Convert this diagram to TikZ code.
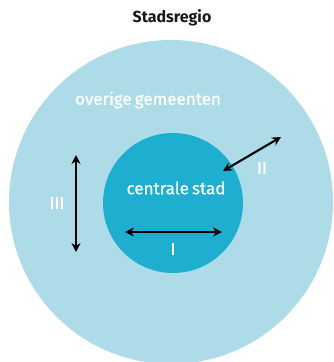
\documentclass[tikz,border=0pt]{standalone}
\usepackage{fontspec}
\setmainfont{Fira Sans}
\newfontfamily\halfvet[FakeBold=0.6,WordSpace=0.7]{Fira Sans}
\usepackage{xcolor}
\usepackage{tikz}
\usetikzlibrary{arrows.meta}
\definecolor{cRegio}{RGB}{173,220,232}
\definecolor{cStad}{RGB}{30,175,208}
\definecolor{cTitel}{RGB}{25,25,25}

\begin{document}
\begin{tikzpicture}[x=1pt,y=-1pt,font=\halfvet\fontsize{17}{19}\selectfont,
  witlabel/.style={text=white,inner sep=0pt},
  pijl/.style={{Stealth[length=9pt,width=9pt]}-{Stealth[length=9pt,width=9pt]},line width=2.1pt,black}]
  \useasboundingbox (0,0) rectangle (334,362);
  \clip (0,0) rectangle (334,362);
  \fill[white] (0,0) rectangle (334,362);
  % two rings: region around the central city
  \node[circle,fill=cRegio,minimum size=324pt,inner sep=0pt] (regio) at (171,202) {};
  \node[circle,fill=cStad,minimum size=140pt,inner sep=0pt] (stad) at (173,203) {};
  \node[text=cTitel,font=\bfseries\fontsize{16}{18}\selectfont] (titel) at (172,18) {Stadsregio};
  \node[witlabel] (overig) at (148,100) {overige gemeenten};
  \node[witlabel] (centraal) at (176,188) {centrale stad};
  % arrow ends
  \coordinate (iL) at (125,232);
  \coordinate (iR) at (222,232);
  \coordinate (iiA) at (223,171);
  \coordinate (iiB) at (281,137);
  \coordinate (iiiT) at (76,155);
  \coordinate (iiiB) at (76,252);
  \draw[pijl] (iL) -- (iR);
  \draw[pijl] (iiA) -- (iiB);
  \draw[pijl] (iiiT) -- (iiiB);
  \node[witlabel] (labI) at (173,249) {I};
  \node[witlabel] (labII) at (262,168) {II};
  \node[witlabel] (labIII) at (57,203) {III};
\end{tikzpicture}
\end{document}
